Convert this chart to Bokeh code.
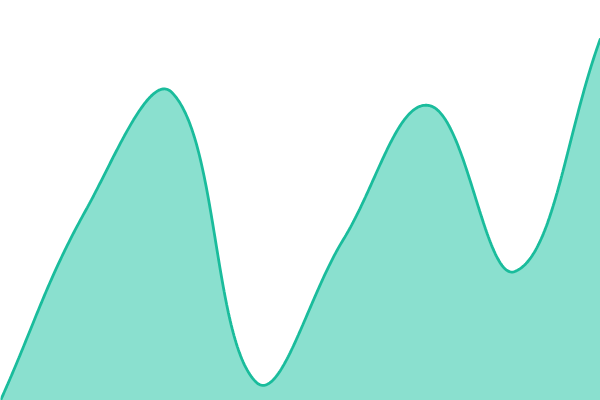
import numpy as np
from bokeh.plotting import figure
from bokeh.embed import file_html
from bokeh.resources import INLINE

# data: 8 evenly spaced samples (value scale 0..400)
x_index = [0, 1, 2, 3, 4, 5, 6, 7]
values = [0, 191, 308, 17, 161, 295, 129, 362]

TENSION = 0.4
W, H = 600, 400
X_MAX, Y_MAX = 7.0, 400.0


def spline_curve(xs, ys, tension, n=80):
    # distance-weighted cardinal spline (control points computed in screen space)
    sx = W / X_MAX
    sy = H / Y_MAX
    P = np.column_stack([np.asarray(xs, float) * sx, np.asarray(ys, float) * sy])
    k = len(P)
    prev_cp = np.zeros_like(P)
    next_cp = np.zeros_like(P)
    for i in range(k):
        a = P[i - 1] if i > 0 else P[i]
        b = P[i]
        c = P[i + 1] if i < k - 1 else P[i]
        d01 = np.hypot(*(b - a))
        d12 = np.hypot(*(c - b))
        s01 = d01 / (d01 + d12) if (d01 + d12) else 0
        s12 = d12 / (d01 + d12) if (d01 + d12) else 0
        fa = tension * s01
        fb = tension * s12
        prev_cp[i] = b - fa * (c - a)
        next_cp[i] = b + fb * (c - a)
    # cap control points to the plot area
    prev_cp[:, 0] = np.clip(prev_cp[:, 0], 0, W)
    next_cp[:, 0] = np.clip(next_cp[:, 0], 0, W)
    prev_cp[:, 1] = np.clip(prev_cp[:, 1], 0, H)
    next_cp[:, 1] = np.clip(next_cp[:, 1], 0, H)
    out = []
    for i in range(k - 1):
        t = np.linspace(0, 1, n, endpoint=(i == k - 2))[:, None]
        p0, p1, p2, p3 = P[i], next_cp[i], prev_cp[i + 1], P[i + 1]
        seg = ((1 - t) ** 3) * p0 + 3 * ((1 - t) ** 2) * t * p1 + 3 * (1 - t) * t**2 * p2 + t**3 * p3
        out.append(seg)
    out = np.vstack(out)
    return out[:, 0] / sx, out[:, 1] / sy


cx, cy = spline_curve(x_index, values, TENSION)

p = figure(width=W, height=H, output_backend="svg", toolbar_location=None,
           x_range=(0, X_MAX), y_range=(0, Y_MAX), min_border=0)
p.axis.visible = False
p.grid.visible = False
p.outline_line_color = None
p.background_fill_color = "white"
p.border_fill_color = "white"

p.varea(x=cx, y1=0, y2=cy, fill_color="#8ae0cf")
p.line(cx, cy, line_color="#1abc9c", line_width=2.8)

html = file_html(p, INLINE)
html = html.replace("<head>", "<head><style>html,body{margin:0;padding:0;}</style>", 1)
open("out.html", "w").write(html)
